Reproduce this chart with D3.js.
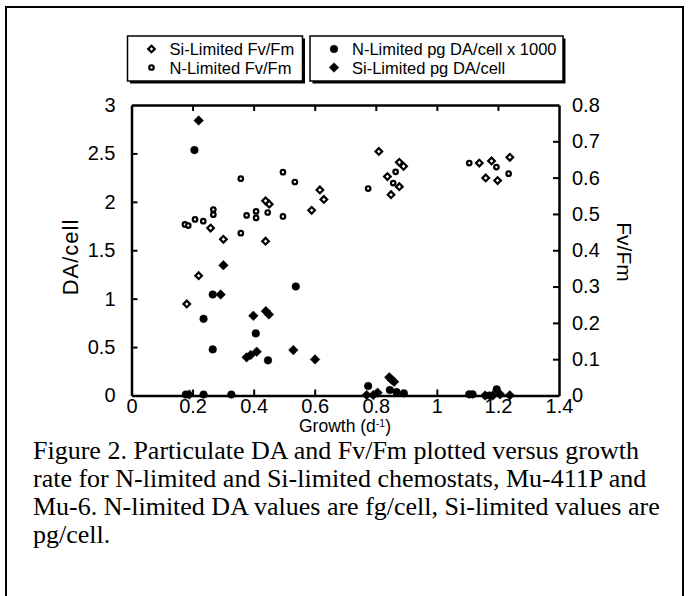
<!doctype html>
<html>
<head>
<meta charset="utf-8">
<title>Figure 2 - DA and Fv/Fm versus growth</title>
<script src="https://d3js.org/d3.v7.min.js"></script>
<style>
  body { margin: 0; background: #fff; }
  text { font-family: Arial, "Liberation Sans", Helvetica, sans-serif; fill: #000; }
  .caption { font-family: "Times New Roman", "Liberation Serif", serif; }
</style>
</head>
<body>
<script>
// tick values
var growthTicks = [0, 0.2, 0.4, 0.6, 0.8, 1, 1.2, 1.4];
var daTicks = [0, 0.5, 1, 1.5, 2, 2.5, 3];
var fvTicks = [0, 0.1, 0.2, 0.3, 0.4, 0.5, 0.6, 0.7, 0.8];

// [growth, Fv/Fm]  N-limited (open circles)
var nLimitedFv = [
  [0.175, 0.471], [0.186, 0.468], [0.208, 0.485], [0.235, 0.480], [0.268, 0.512],
  [0.268, 0.498], [0.358, 0.597], [0.358, 0.447], [0.377, 0.496], [0.408, 0.507],
  [0.408, 0.489], [0.446, 0.504], [0.496, 0.615], [0.535, 0.588], [0.496, 0.493],
  [0.775, 0.570], [0.865, 0.616], [0.857, 0.585], [1.106, 0.640], [1.195, 0.629],
  [1.235, 0.611]
];

// [growth, Fv/Fm]  Si-limited (open diamonds)
var siLimitedFv = [
  [0.181, 0.252], [0.220, 0.330], [0.259, 0.461], [0.301, 0.430], [0.439, 0.536],
  [0.451, 0.527], [0.439, 0.425], [0.590, 0.510], [0.617, 0.566], [0.630, 0.540],
  [0.810, 0.672], [0.838, 0.603], [0.877, 0.642], [0.891, 0.631], [0.877, 0.575],
  [0.850, 0.553], [1.139, 0.640], [1.179, 0.646], [1.239, 0.656], [1.160, 0.599],
  [1.199, 0.592]
];

// [growth, DA/cell]  N-limited pg DA/cell x 1000 (filled circles)
var nLimitedDA = [
  [0.206, 2.534], [0.266, 1.043], [0.236, 0.792], [0.266, 0.476], [0.407, 0.641],
  [0.447, 0.363], [0.538, 1.126], [0.178, 0.01], [0.236, 0.01], [0.327, 0.01],
  [0.775, 0.098], [0.846, 0.057], [0.868, 0.036], [0.892, 0.023], [1.106, 0.012],
  [1.117, 0.012], [1.196, 0.064], [1.172, 0.0]
];

// [growth, DA/cell]  Si-limited pg DA/cell (filled diamonds)
var siLimitedDA = [
  [0.220, 2.840], [0.301, 1.345], [0.292, 1.043], [0.399, 0.823], [0.440, 0.871],
  [0.450, 0.837], [0.377, 0.394], [0.390, 0.418], [0.410, 0.452], [0.530, 0.469],
  [0.601, 0.373], [0.189, 0.01], [0.770, 0.005], [0.792, 0.005], [0.806, 0.029],
  [0.844, 0.188], [0.851, 0.165], [0.860, 0.142], [1.158, 0], [1.183, 0],
  [1.207, 0.012], [1.239, 0.002]
];

var legendLeft = ["Si-Limited Fv/Fm", "N-Limited Fv/Fm"];
var legendRight = ["N-Limited pg DA/cell x 1000", "Si-Limited pg DA/cell"];

var captionLines = [
  "Figure 2. Particulate DA and Fv/Fm plotted versus growth",
  "rate for N-limited and Si-limited chemostats, Mu-411P and",
  "Mu-6. N-limited DA values are fg/cell, Si-limited values are",
  "pg/cell."
];

var width = 689;
var height = 596;
var plot = { left: 131.5, right: 559, top: 105, bottom: 395.5 };

var svg = d3.select("body")
    .append("svg")
    .attr("width", width)
    .attr("height", height);

// outer frame of the figure
svg.append("rect")
    .attr("x", 6).attr("y", 7)
    .attr("width", 677).attr("height", 600)
    .attr("fill", "none")
    .attr("stroke", "#000")
    .attr("stroke-width", 2);

var x = d3.scaleLinear().domain([0, 1.4]).range([plot.left, plot.right]);
var yDA = d3.scaleLinear().domain([0, 3]).range([plot.bottom, plot.top]);
var yFv = d3.scaleLinear().domain([0, 0.8]).range([plot.bottom, plot.top]);

var tick = 6;

// axes (ticks pointing inwards)
var bottomAxis = svg.append("g")
    .attr("transform", "translate(0," + plot.bottom + ")")
    .call(d3.axisBottom(x).tickValues(growthTicks).tickSizeInner(-tick).tickSizeOuter(0).tickPadding(3)
        .tickFormat(function(d) { return d3.format("")(d); }));

var topAxis = svg.append("g")
    .attr("transform", "translate(0," + plot.top + ")")
    .call(d3.axisTop(x).tickValues(growthTicks).tickSizeInner(-tick).tickSizeOuter(0).tickFormat(""));

var leftAxis = svg.append("g")
    .attr("transform", "translate(" + plot.left + ",0)")
    .call(d3.axisLeft(yDA).tickValues(daTicks).tickSizeInner(-tick).tickSizeOuter(0).tickPadding(16)
        .tickFormat(function(d) { return d3.format("")(d); }));

var rightAxis = svg.append("g")
    .attr("transform", "translate(" + plot.right + ",0)")
    .call(d3.axisRight(yFv).tickValues(fvTicks).tickSizeInner(-tick).tickSizeOuter(0).tickPadding(13)
        .tickFormat(function(d) { return d === 0 ? "0" : d3.format(".1f")(d); }));

[bottomAxis, topAxis, leftAxis, rightAxis].forEach(function(g) {
    g.select(".domain").attr("stroke", "#000").attr("stroke-width", 2.5);
    g.selectAll(".tick line").attr("stroke", "#000").attr("stroke-width", 2);
    g.selectAll(".tick text")
        .attr("font-size", 20)
        .attr("font-family", "Arial, 'Liberation Sans', sans-serif")
        .attr("fill", "#000");
});
// the end ticks sit on the frame: drop them
bottomAxis.selectAll(".tick line").filter(function(d) { return d === 0 || d === 1.4; }).remove();
topAxis.selectAll(".tick line").filter(function(d) { return d === 0 || d === 1.4; }).remove();
leftAxis.selectAll(".tick line").filter(function(d) { return d === 0 || d === 3; }).remove();
rightAxis.selectAll(".tick line").filter(function(d) { return d === 0 || d === 0.8; }).remove();

// axis titles
svg.append("text")
    .attr("transform", "translate(78,257) rotate(-90)")
    .attr("text-anchor", "middle")
    .attr("font-size", 22)
    .attr("letter-spacing", 1)
    .text("DA/cell");

svg.append("text")
    .attr("transform", "translate(617,252) rotate(90)")
    .attr("text-anchor", "middle")
    .attr("font-size", 21)
    .text("Fv/Fm");

var growthLabel = svg.append("text")
    .attr("x", 345).attr("y", 432)
    .attr("text-anchor", "middle")
    .attr("font-size", 17.5);
growthLabel.append("tspan").text("Growth (d");
growthLabel.append("tspan").attr("dy", -5).attr("font-size", 10.5).text("-1");
growthLabel.append("tspan").attr("dy", 5).text(")");

// marker generators
var filledCircle = d3.symbol().type(d3.symbolCircle).size(46);
var openCircle = d3.symbol().type(d3.symbolCircle).size(16);
var filledDiamond = d3.symbol().type(d3.symbolSquare).size(46);
var openDiamond = d3.symbol().type(d3.symbolSquare).size(22);

function drawSeries(data, yScale, gen, filled, rotate) {
    svg.append("g").selectAll("path")
        .data(data)
        .enter()
            .append("path")
            .attr("d", gen)
            .attr("transform", function(d) {
                return "translate(" + x(d[0]) + "," + yScale(d[1]) + ")" + (rotate ? " rotate(45)" : "");
            })
            .attr("fill", filled ? "#000" : "#fff")
            .attr("stroke", "#000")
            .attr("stroke-width", filled ? 0.5 : 2.2);
}

drawSeries(nLimitedFv, yFv, openCircle, false, false);
drawSeries(siLimitedFv, yFv, openDiamond, false, true);
drawSeries(nLimitedDA, yDA, filledCircle, true, false);
drawSeries(siLimitedDA, yDA, filledDiamond, true, true);

// legend boxes
function legendBox(x0, w, labels, gens, fills, rots) {
    var y0 = 36, h = 45;
    svg.append("rect")
        .attr("x", x0 + 2.5).attr("y", y0 + 2.5)
        .attr("width", w).attr("height", h)
        .attr("fill", "#000");
    svg.append("rect")
        .attr("x", x0).attr("y", y0)
        .attr("width", w).attr("height", h)
        .attr("fill", "#fff")
        .attr("stroke", "#000")
        .attr("stroke-width", 1.5);
    labels.forEach(function(label, i) {
        var cy = 49 + i * 18.5;
        svg.append("path")
            .attr("d", gens[i])
            .attr("transform", "translate(" + (x0 + 24) + "," + cy + ")" + (rots[i] ? " rotate(45)" : ""))
            .attr("fill", fills[i] ? "#000" : "#fff")
            .attr("stroke", "#000")
            .attr("stroke-width", fills[i] ? 0.5 : 2.2);
        svg.append("text")
            .attr("x", x0 + 42).attr("y", cy + 6)
            .attr("font-size", 16.5)
            .text(label);
    });
}

legendBox(127.5, 175, legendLeft, [openDiamond, openCircle], [false, false], [true, false]);
legendBox(310, 253, legendRight, [filledCircle, filledDiamond], [true, true], [false, true]);

// caption
svg.append("g").selectAll("text")
    .data(captionLines)
    .enter()
        .append("text")
        .attr("class", "caption")
        .attr("x", 33)
        .attr("y", function(d, i) { return 459 + i * 28; })
        .attr("font-size", 26)
        .text(function(d) { return d; });
</script>
</body>
</html>
